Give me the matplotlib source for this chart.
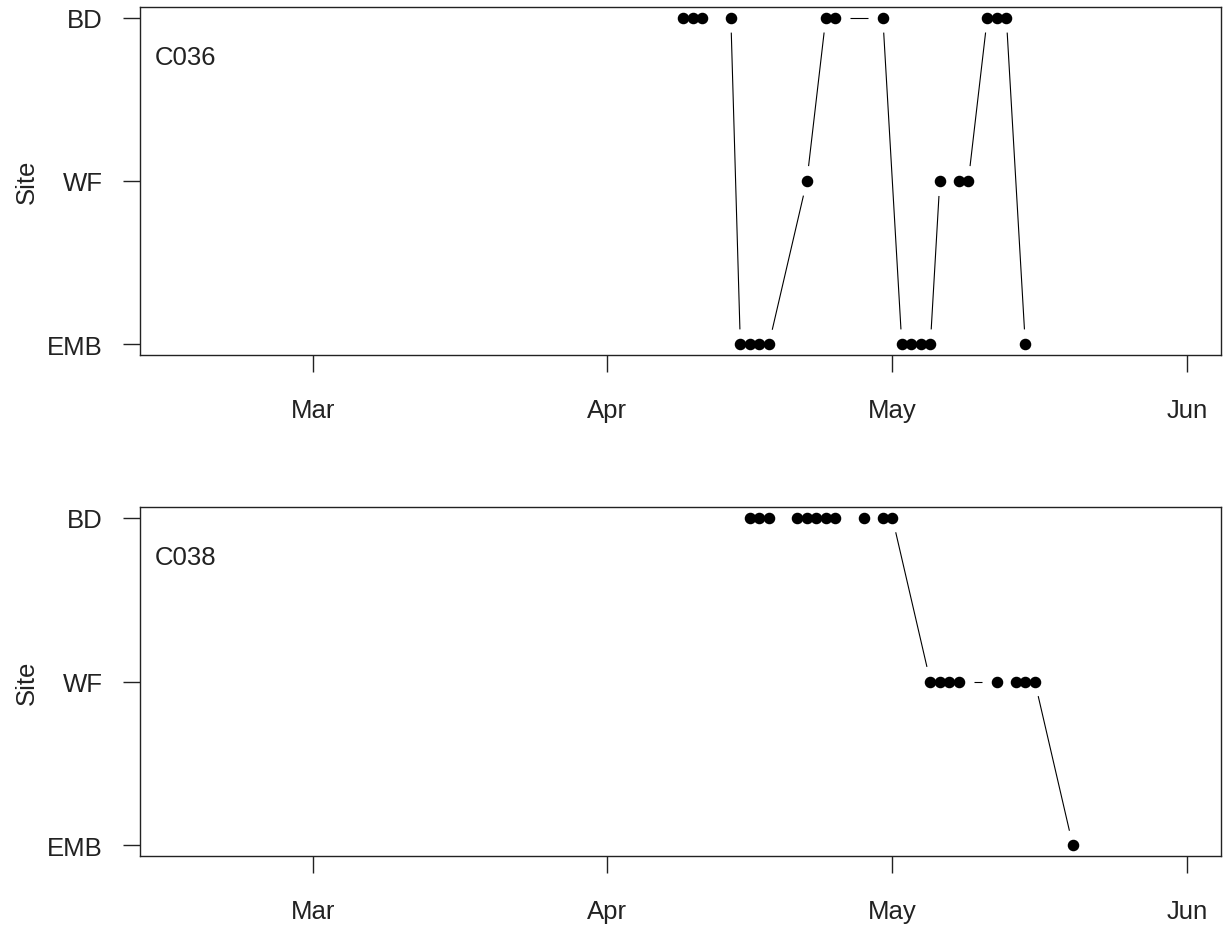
import numpy as np
import matplotlib
matplotlib.use('Agg')
import matplotlib.pyplot as plt
import matplotlib.dates as mdates
from datetime import datetime, timedelta

plt.rcParams['font.family'] = ['Liberation Sans', 'DejaVu Sans']

# site levels on the y axis
site_levels = ['EMB', 'WF', 'BD']

# C036 detections
c036_dates = ['04-09', '04-10', '04-11', '04-14', '04-15', '04-16', '04-17', '04-18',
              '04-22', '04-24', '04-25', '04-30', '05-02', '05-03', '05-04', '05-05',
              '05-06', '05-08', '05-09', '05-11', '05-12', '05-13', '05-15']
c036_sites = ['BD', 'BD', 'BD', 'BD', 'EMB', 'EMB', 'EMB', 'EMB',
              'WF', 'BD', 'BD', 'BD', 'EMB', 'EMB', 'EMB', 'EMB',
              'WF', 'WF', 'WF', 'BD', 'BD', 'BD', 'EMB']

# C038 detections
c038_dates = ['04-16', '04-17', '04-18', '04-21', '04-22', '04-23', '04-24', '04-25',
              '04-28', '04-30', '05-01', '05-05', '05-06', '05-07', '05-08', '05-12',
              '05-14', '05-15', '05-16', '05-20']
c038_sites = ['BD', 'BD', 'BD', 'BD', 'BD', 'BD', 'BD', 'BD',
              'BD', 'BD', 'BD', 'WF', 'WF', 'WF', 'WF', 'WF',
              'WF', 'WF', 'WF', 'EMB']

fish = [('C036', c036_dates, c036_sites), ('C038', c038_dates, c038_sites)]

YEAR = 2019
xmin = mdates.date2num(datetime(YEAR, 3, 1) - timedelta(days=18.2))
xmax = mdates.date2num(datetime(YEAR, 6, 1) + timedelta(days=3.6))

W, H = 1223, 928
fig = plt.figure(figsize=(W / 100, H / 100), dpi=100)

# axes boxes in pixels: (top, bottom) of each frame
frames = [(8, 356), (508, 857)]
left_px, right_px = 140, 1221


def draw_gapped(ax, x, y, gap_px=15):
    # lines between points with a gap at each end, like R type="b"
    pts = ax.transData.transform(np.column_stack([x, y]))
    inv = ax.transData.inverted()
    for p0, p1 in zip(pts[:-1], pts[1:]):
        d = np.hypot(*(p1 - p0))
        if d <= 2 * gap_px:
            continue
        u = (p1 - p0) / d
        a, b = inv.transform(np.array([p0 + u * gap_px, p1 - u * gap_px]))
        ax.plot([a[0], b[0]], [a[1], b[1]], color='black', lw=0.8,
                solid_capstyle='butt', zorder=2)


for (name, dates, sites), (top, bot) in zip(fish, frames):
    ax = fig.add_axes([left_px / W, (H - bot) / H,
                       (right_px - left_px) / W, (bot - top) / H])
    ax.set_xlim(xmin, xmax)
    ax.set_ylim(1 - 0.065, 3 + 0.065)

    x = mdates.date2num([datetime.strptime(f'{YEAR}-{d}', '%Y-%m-%d') for d in dates])
    y = np.array([site_levels.index(s) + 1 for s in sites])

    draw_gapped(ax, x, y)
    ax.plot(x, y, 'o', color='black', ms=7.3, mec='black', zorder=3)

    ax.set_yticks([1, 2, 3])
    ax.set_yticklabels(site_levels)
    ax.xaxis.set_major_locator(mdates.MonthLocator())
    ax.xaxis.set_major_formatter(mdates.DateFormatter('%b'))

    ax.tick_params(axis='both', direction='out', length=12.2, width=1.0,
                   colors='#222222', labelsize=18.5)
    ax.tick_params(axis='y', pad=14.4)
    ax.tick_params(axis='x', pad=19)
    for sp in ax.spines.values():
        sp.set_linewidth(1.0)
        sp.set_color('#222222')

    ax.text(-0.105, 0.5, 'Site', transform=ax.transAxes, rotation=90,
            ha='center', va='center', fontsize=18.5, color='#222222')
    ax.text(0.0139, 0.857, name, transform=ax.transAxes,
            ha='left', va='center', fontsize=18.5, color='#222222')

fig.savefig('out.png', dpi=100)
